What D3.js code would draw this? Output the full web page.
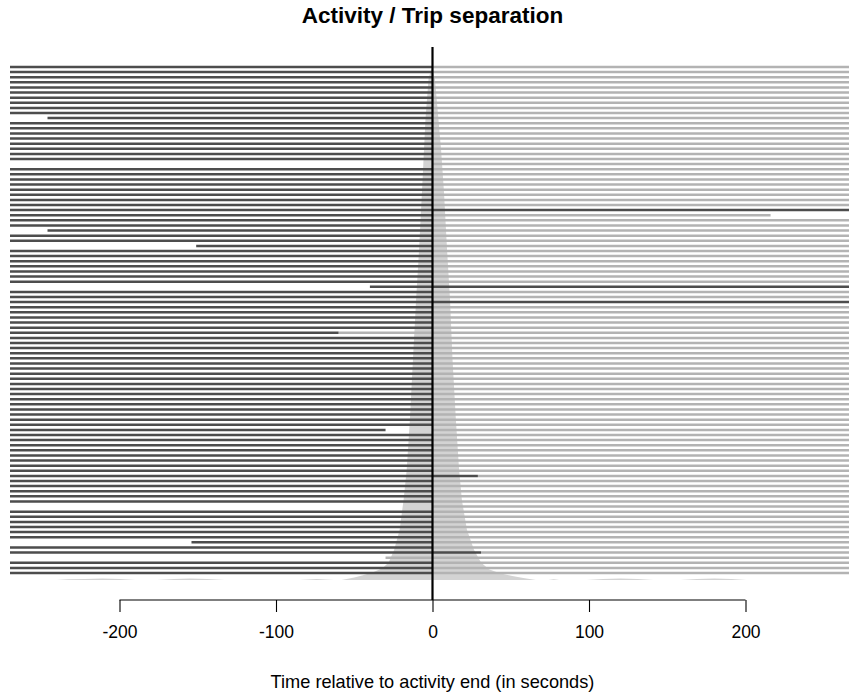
<!DOCTYPE html>
<html>
<head>
<meta charset="utf-8">
<script src="https://cdn.jsdelivr.net/npm/d3@7"></script>
<style>
  html, body { margin: 0; padding: 0; background: #ffffff; }
  svg { display: block; font-family: "Liberation Sans", Arial, sans-serif; }
</style>
</head>
<body>
<svg id="chart" width="849" height="695"></svg>
<script>
// One row per activity end. Times are seconds relative to that end;
// -300 / 300 mean "before / after the visible window", null means no segment.
const actFrom = [
  -300,-300,-300,-300,-300,-300,-300,-300,-300,-300,
  -246,-300,-300,-300,-300,-300,-300,-300,-300,null,
  -300,-300,-300,-300,-300,-300,-300,-300,-300,-300,
  -300,-300,-246,-300,-300,-151,-300,-300,-300,-300,
  -300,-300,-300, -40,-300,-300,-300,-300,-300,-300,
  -300,-300,-300,-300,-300,-300,-300,-300,-300,-300,
  -300,-300,-300,-300,-300,-300,-300,-300,-300,-300,
  -300,-300,-300,-300,-300,-300,-300,-300,-300,-300,
  -300,-300,-300,-300,-300,-300,null,-300,-300,-300,
  -300,-300,-300,-154,-300,-300,null,-300,-300,-300
];
const actTo = [
  0,0,0,0,0,0,0,0,0,0,
  0,0,0,0,0,0,0,0,0,null,
  0,0,0,0,0,0,0,0,300,0,
  0,0,0,0,0,0,0,0,0,0,
  0,0,0,300,0,0,300,0,0,0,
  0,0,-60,0,0,0,0,0,0,0,
  0,0,0,0,0,0,0,0,0,0,
  0,-30,0,0,0,0,0,0,0,0,
  29,0,0,0,0,0,null,0,0,0,
  0,0,0,0,0,31,null,0,0,0
];
const tripFrom = [
  0,0,0,0,0,0,0,0,0,0,
  0,0,0,0,0,0,0,0,0,0,
  0,0,0,0,0,0,0,0,null,0,
  0,0,0,0,0,0,0,0,0,0,
  0,0,0,null,0,0,null,0,0,0,
  0,0,-60,0,0,0,0,0,0,0,
  0,0,0,0,0,0,0,0,0,0,
  0,0,0,0,0,0,0,0,0,0,
  29,0,0,0,0,0,0,0,0,0,
  0,0,0,0,0,31,-30,0,0,0
];
const tripTo = [
  300,300,300,300,300,300,300,300,300,300,
  300,300,300,300,300,300,300,300,300,300,
  300,300,300,300,300,300,300,300,null,216,
  300,300,300,300,300,300,300,300,300,300,
  300,300,300,null,300,300,null,300,300,300,
  300,300,300,300,300,300,300,300,300,300,
  300,300,300,300,300,300,300,300,300,300,
  300,300,300,300,300,300,300,300,300,300,
  300,300,300,300,300,300,300,300,300,300,
  300,300,300,300,300,300,300,300,300,300
];

// Smoothed distribution of separation times (relative density, peak = 1)
const densityTime = [
  -240,-233,-222,-211,-200,-190,
  -176,-165,-155,-144,-133,
  -85,-74,-63,
  -58,-50,-45,-38,-32,-28,-24.5,-21,-18.5,-16.5,-14.5,-12.5,-10.5,-8.6,-6.7,-4.5,-2.5,-0.5,
  1.5,3.5,5.5,7.3,9.3,11.2,12.8,15,17,18.8,22,26.5,31,36,43,51,58,66,
  74,77.5,81,
  98.5,109,120,131,141,
  158.5,169,180,191,200.5
];
const densityValue = [
  0,0.0015,0.002,0.003,0.002,0,
  0,0.002,0.003,0.002,0,
  0,0.002,0,
  0,0.005,0.009,0.015,0.023,0.034,0.059,0.098,0.156,0.215,0.31,0.43,0.547,0.645,0.76,0.9,0.98,1,
  0.98,0.91,0.84,0.76,0.645,0.547,0.43,0.31,0.215,0.156,0.098,0.059,0.034,0.021,0.013,0.008,0.004,0,
  0,0.0015,0,
  0,0.002,0.003,0.002,0,
  0,0.002,0.003,0.002,0
];

const xTicks = [-200, -100, 0, 100, 200];

const svg = d3.select("#chart");
const W = 849, H = 695;

const x = d3.scaleLinear().domain([-200, 200]).range([119.5, 745.5]);
const rows = d3.range(actFrom.length);
const y = d3.scaleLinear().domain([0, rows.length - 1]).range([67, 573]);
const yDens = d3.scaleLinear().domain([0, 1]).range([580, 68]);

svg.append("defs").append("clipPath").attr("id", "plotClip")
  .append("rect").attr("x", 10).attr("y", 40).attr("width", W - 10).attr("height", 560);

const plot = svg.append("g").attr("clip-path", "url(#plotClip)");

// density silhouette behind the rows
const dens = densityTime.map((t, i) => [t, densityValue[i]]);
plot.append("path")
  .datum(dens)
  .attr("fill", "#d3d3d3")
  .attr("stroke", "none")
  .attr("d", d3.area().x(d => x(d[0])).y0(yDens(0)).y1(d => yDens(d[1])));

// trip segments (light)
plot.append("g").selectAll("line")
  .data(rows.filter(i => tripFrom[i] !== null && tripTo[i] !== null))
  .join("line")
  .attr("x1", i => x(tripFrom[i])).attr("x2", i => x(tripTo[i]))
  .attr("y1", i => y(i)).attr("y2", i => y(i))
  .attr("stroke", "#b3b3b3").attr("stroke-width", 2.5);

// activity segments (dark)
plot.append("g").selectAll("line")
  .data(rows.filter(i => actFrom[i] !== null && actTo[i] !== null))
  .join("line")
  .attr("x1", i => x(actFrom[i])).attr("x2", i => x(actTo[i]))
  .attr("y1", i => y(i)).attr("y2", i => y(i))
  .attr("stroke", "#4d4d4d").attr("stroke-width", 2.5);

// activity end marker
svg.append("line")
  .attr("x1", x(0)).attr("x2", x(0))
  .attr("y1", 47).attr("y2", 600)
  .attr("stroke", "#000").attr("stroke-width", 2.2);

// bottom axis
const axis = svg.append("g").attr("transform", "translate(0,600)")
  .call(d3.axisBottom(x).tickValues(xTicks).tickSize(12).tickPadding(14)
    .tickFormat(d3.format("d")));
axis.select(".domain").attr("stroke", "#000").attr("stroke-width", 1.1)
  .attr("d", `M${x(-200)},0H${x(200)}`);
axis.selectAll(".tick line").attr("stroke", "#000").attr("stroke-width", 1.1);
axis.selectAll(".tick text")
  .attr("font-family", "Liberation Sans, Arial, sans-serif")
  .attr("font-size", 17.5).attr("fill", "#000")
  .text(d => d < 0 ? "-" + Math.abs(d) : String(d));

svg.append("text")
  .attr("x", x(0)).attr("y", 23)
  .attr("text-anchor", "middle")
  .attr("font-size", 22.5).attr("font-weight", "bold")
  .text("Activity / Trip separation");

svg.append("text")
  .attr("x", x(0)).attr("y", 688)
  .attr("text-anchor", "middle")
  .attr("font-size", 18.2)
  .text("Time relative to activity end (in seconds)");
</script>
</body>
</html>
